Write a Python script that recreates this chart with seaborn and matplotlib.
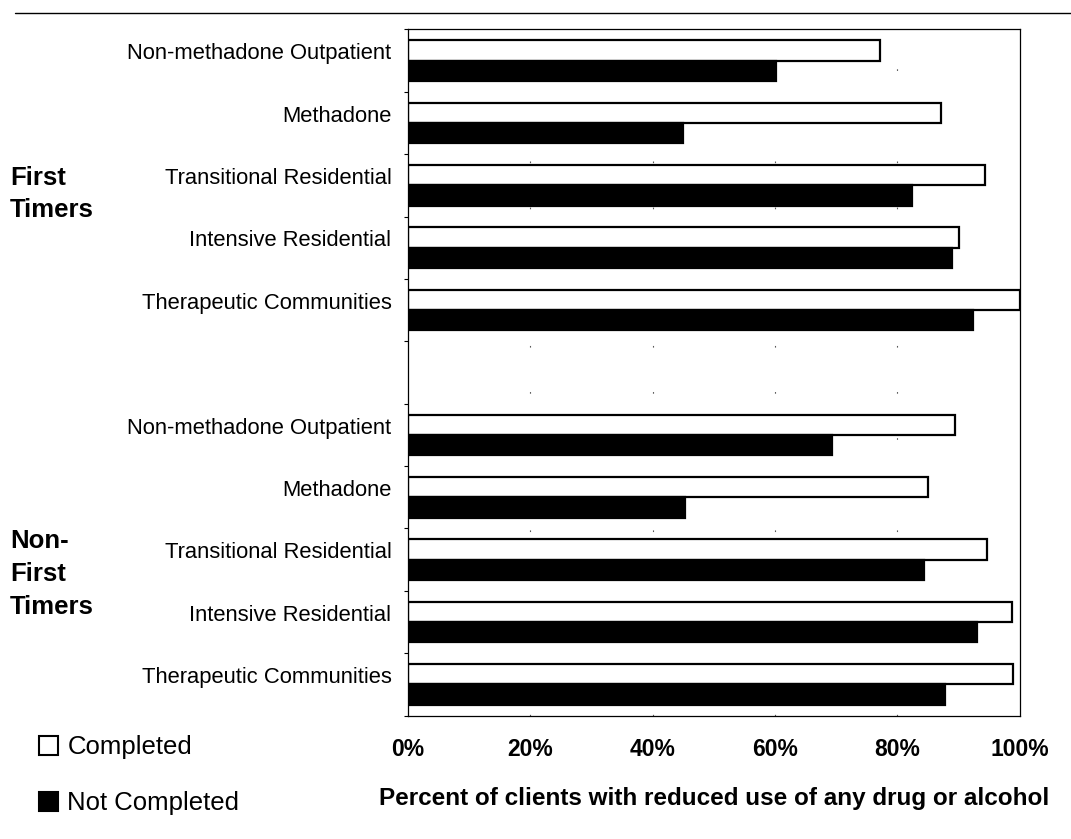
import pandas as pd
import matplotlib.pyplot as plt
import seaborn as sns
from matplotlib.patches import Patch
from matplotlib.lines import Line2D
from matplotlib.ticker import FixedLocator

# Treatment types (same list for both client groups)
programs = [
    "Non-methadone Outpatient",
    "Methadone",
    "Transitional Residential",
    "Intensive Residential",
    "Therapeutic Communities",
]
groups = ["First\nTimers", "Non-\nFirst\nTimers"]

# Percent with reduced use
first_completed = [77.1, 87.1, 94.4, 90.1, 100.0]
first_not_completed = [60.1, 45.0, 82.4, 89.0, 92.3]
nonfirst_completed = [89.4, 85.0, 94.6, 98.7, 99.0]
nonfirst_not_completed = [69.3, 45.3, 84.4, 93.0, 87.8]

status_order = ["Completed", "Not Completed"]
xticks = [0, 20, 40, 60, 80, 100]

# Build long-form table; keys keep the two groups apart
rows = []
for g, comp, notc in [
    ("first", first_completed, first_not_completed),
    ("nonfirst", nonfirst_completed, nonfirst_not_completed),
]:
    for p, c, n in zip(programs, comp, notc):
        rows.append({"slot": g + "|" + p, "status": "Completed", "pct": c})
        rows.append({"slot": g + "|" + p, "status": "Not Completed", "pct": n})
df = pd.DataFrame(rows)

# empty slot between the two groups
order = ["first|" + p for p in programs] + ["gap"] + ["nonfirst|" + p for p in programs]

sns.set_theme(style="white")
plt.rcParams["font.family"] = ["Liberation Sans", "DejaVu Sans"]
plt.rcParams["text.color"] = "black"
plt.rcParams["xtick.color"] = "black"
plt.rcParams["ytick.color"] = "black"
plt.rcParams["axes.labelcolor"] = "black"

fig, ax = plt.subplots(figsize=(10.71, 8.39), dpi=100)
fig.subplots_adjust(left=0.381, right=0.952, top=0.965, bottom=0.147)

# faint dotted grid, like the scanned original
for v in xticks[1:-1]:
    ax.axvline(v, color="0.35", lw=0.8, ls=(0, (1.5, 40)), zorder=0)

sns.barplot(
    data=df,
    y="slot",
    x="pct",
    hue="status",
    order=order,
    hue_order=status_order,
    palette={"Completed": "white", "Not Completed": "black"},
    edgecolor="black",
    linewidth=1.6,
    width=0.65,
    orient="h",
    errorbar=None,
    legend=False,
    ax=ax,
    zorder=2,
)

ax.set_xlim(0, 100)
ax.set_xticks(xticks)
ax.set_xticklabels([f"{t}%" for t in xticks], fontsize=16.5, fontweight="bold")
ax.tick_params(axis="x", length=0, pad=16)
ax.set_xlabel(
    "Percent of clients with reduced use of any drug or alcohol",
    fontsize=17.5,
    fontweight="bold",
    labelpad=19,
)

# labels sit level with the upper (Completed) bar
ax.set_yticks([i - 0.15 for i in range(len(order))])
ax.set_yticklabels([s.split("|")[1] if "|" in s else "" for s in order], fontsize=15.8)
ax.tick_params(axis="y", which="major", length=0, pad=12)
ax.yaxis.set_minor_locator(FixedLocator([i - 0.5 for i in range(len(order) + 1)]))
ax.tick_params(axis="y", which="minor", length=3, width=0.8, color="black", left=True)
ax.set_ylim(len(order) - 0.5, -0.5)
ax.set_ylabel("")

for s in ax.spines.values():
    s.set_color("black")
    s.set_linewidth(0.9)

# group labels
fig.text(10 / 1071, 1 - 194 / 839, groups[0], fontsize=18.5, fontweight="bold",
         ha="left", va="center", linespacing=1.4)
fig.text(10 / 1071, 1 - 574 / 839, groups[1], fontsize=18.5, fontweight="bold",
         ha="left", va="center", linespacing=1.45)

# line across the top of the page
fig.add_artist(Line2D([15 / 1071, 1.0], [1 - 13 / 839] * 2, transform=fig.transFigure,
                      color="black", lw=1))

# legend in the bottom-left corner
handles = [
    Patch(facecolor="white", edgecolor="black", lw=1.5, label="Completed"),
    Patch(facecolor="black", edgecolor="black", lw=1.5, label="Not Completed"),
]
fig.legend(
    handles=handles,
    loc="upper left",
    bbox_to_anchor=(16 / 1071, 1 - 712 / 839),
    frameon=False,
    fontsize=18.5,
    handlelength=0.75,
    handleheight=0.75,
    handletextpad=0.35,
    labelspacing=1.25,
)

plt.savefig("out.png", dpi=100)
